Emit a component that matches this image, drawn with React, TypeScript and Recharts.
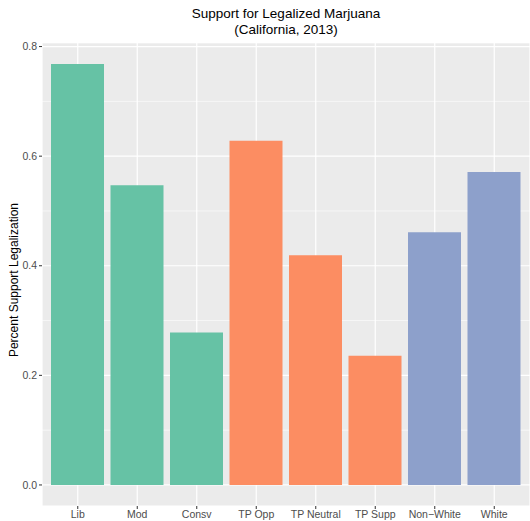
import { BarChart, Bar, XAxis, YAxis, CartesianGrid, Cell } from 'recharts';

const categories = ['Lib', 'Mod', 'Consv', 'TP Opp', 'TP Neutral', 'TP Supp', 'Non\u2212White', 'White'];
const support = [0.768, 0.547, 0.278, 0.628, 0.419, 0.236, 0.461, 0.571];
const groups = ['ideology', 'ideology', 'ideology', 'teaparty', 'teaparty', 'teaparty', 'race', 'race'];
const groupColors: Record<string, string> = { ideology: '#66C2A5', teaparty: '#FC8D62', race: '#8DA0CB' };
// major ticks carry labels, the ones in between are minor gridlines only
const gridTicks = [0, 0.1, 0.2, 0.3, 0.4, 0.5, 0.6, 0.7, 0.8];
const yDomain = [-0.0384, 0.8065];

const data = categories.map((name, i) => ({ name, value: support[i], group: groups[i] }));

const font = '"Liberation Sans", Arial, Helvetica, sans-serif';
const margin = { top: 43, right: 0, bottom: 0, left: 12 };
const yAxisWidth = 30;
const xAxisHeight = 15;

const isMajor = (v: number) => Math.round(v * 10) % 2 === 0;

const gridLine = (p: any) => (
  <line
    key={p.key}
    x1={p.x1}
    y1={p.y1}
    x2={p.x2}
    y2={p.y2}
    stroke="#FFFFFF"
    strokeWidth={p.index % 2 === 1 ? 0.6 : 1.2}
  />
);

const YTick = (p: any) => {
  const v = p.payload.value;
  if (!isMajor(v)) return <g />;
  return (
    <g>
      <line x1={p.x + 2} x2={p.x + 5} y1={p.y} y2={p.y} stroke="#333333" />
      <text x={p.x} y={p.y} dy="0.355em" textAnchor="end" fontSize={10.5} fill="#4D4D4D" fontFamily={font}>
        {v.toFixed(1)}
      </text>
    </g>
  );
};

export default function App() {
  return (
    <div style={{ position: 'relative', width: 530, height: 521, fontFamily: font }}>
      <style>{'body{margin:0}'}</style>
      <div
        style={{
          position: 'absolute',
          left: 42,
          width: 488,
          top: 6,
          textAlign: 'center',
          fontSize: 13.5,
          lineHeight: '16px',
          color: '#000',
        }}
      >
        Support for Legalized Marjuana
        <br />
        (California, 2013)
      </div>
      <div
        style={{
          position: 'absolute',
          left: 14,
          top: 280,
          transform: 'translate(-50%, -50%) rotate(-90deg)',
          whiteSpace: 'nowrap',
          fontSize: 12,
          color: '#000',
        }}
      >
        Percent Support Legalization
      </div>
      <div style={{ position: 'absolute', left: 0, top: 0 }}>
        <BarChart width={530} height={521} data={data} margin={margin} barSize={53}>
          <CartesianGrid fill="#EBEBEB" stroke="#FFFFFF" strokeWidth={1.2} horizontal={gridLine} />
          <XAxis
            dataKey="name"
            padding={{ left: 6, right: 6 }}
            axisLine={false}
            tickLine={{ stroke: '#333333' }}
            tickSize={3}
            tickMargin={2}
            height={xAxisHeight}
            interval={0}
            tick={{ fontSize: 10.5, fill: '#4D4D4D', fontFamily: font }}
          />
          <YAxis
            width={yAxisWidth}
            domain={yDomain}
            ticks={gridTicks}
            interval={0}
            axisLine={false}
            tickLine={false}
            tickSize={3}
            tickMargin={2}
            allowDataOverflow
            tick={YTick}
          />
          <Bar dataKey="value" isAnimationActive={false}>
            {data.map((d) => (
              <Cell key={d.name} fill={groupColors[d.group]} />
            ))}
          </Bar>
        </BarChart>
      </div>
    </div>
  );
}
